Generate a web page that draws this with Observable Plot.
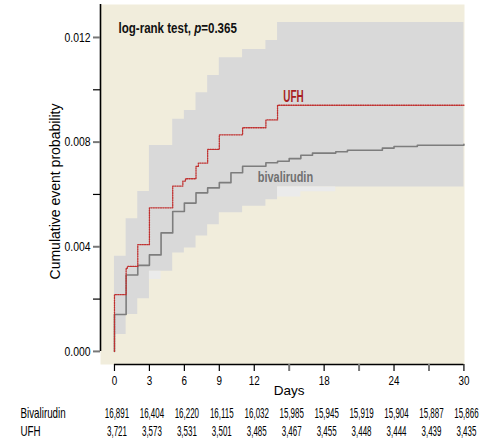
<!DOCTYPE html>
<html>
<head>
<meta charset="utf-8">
<script src="https://cdn.jsdelivr.net/npm/d3@7"></script>
<script src="https://cdn.jsdelivr.net/npm/@observablehq/plot@0.6"></script>
<style>
  html, body { margin: 0; padding: 0; background: #fff; }
  #chart { width: 502px; height: 443px; }
</style>
</head>
<body>
<div id="chart"></div>
<script>
// ---- data (probabilities in units of 0.001) ----
const bivDays = [0, 0, 1, 2, 3, 4, 5, 6, 7, 8, 9, 10, 11, 13, 14, 15, 16, 17, 19, 20, 23, 24, 26, 30];
const bivProb = [0, 1.41, 2.92, 3.29, 3.69, 4.53, 5.35, 5.67, 6.06, 6.25, 6.45, 6.83, 7.08, 7.21, 7.27, 7.37, 7.50, 7.58, 7.63, 7.69, 7.77, 7.83, 7.88, 7.92];

const ufhDays = [0, 0, 1, 1.1, 2, 3, 5, 5.87, 6.1, 7, 7.2, 8, 9, 11, 13, 14, 30];
const ufhProb = [0, 2.17, 3.16, 3.25, 4.08, 5.49, 6.32, 6.51, 6.60, 7.07, 7.20, 7.72, 8.28, 8.55, 8.85, 9.41, 9.41];

const bandDays  = [0, 1, 2, 3, 4, 5, 6, 7, 8, 9, 11, 13, 14, 30];
const bandUpper = [3.64, 5.07, 6.11, 7.87, 7.87, 8.87, 9.21, 9.89, 10.55, 11.22, 11.54, 11.88, 12.57, 12.57];
const bandLower = [0.65, 1.41, 2.01, 3.06, 3.06, 3.76, 3.95, 4.41, 4.84, 5.30, 5.55, 5.80, 6.28, 6.28];

const lightDays  = [3, 4, 14, 16, 19];
const lightLower = [2.75, 2.75, 5.90, 6.10, 6.10];
const lightUpper = [3.06, 3.06, 6.28, 6.28, 6.28];
const lightGroup = [1, 1, 2, 2, 2];

const yMajorTicks = [0, 0.004, 0.008, 0.012];
const yMinorTicks = [0.002, 0.006, 0.010];
const xLabeledTicks = [0, 3, 6, 9, 12, 18, 24, 30];
const xMinorTicks = [15, 21, 27];

const tableDays = [0, 3, 6, 9, 12, 15, 18, 21, 24, 27, 30];
const bivN = ["16,891", "16,404", "16,220", "16,115", "16,032", "15,985", "15,945", "15,919", "15,904", "15,887", "15,866"];
const ufhN = ["3,721", "3,573", "3,531", "3,501", "3,485", "3,467", "3,455", "3,448", "3,444", "3,439", "3,435"];

const groupNames = ["Bivalirudin", "UFH"];
const pText = "log-rank test, p=0.365";

// ---- build tables ----
const k = 0.001;
const biv = bivDays.map((d, i) => ({day: d, p: bivProb[i] * k}));
const ufh = ufhDays.map((d, i) => ({day: d, p: ufhProb[i] * k}));
const band = bandDays.map((d, i) => ({day: d, lo: bandLower[i] * k, hi: bandUpper[i] * k}));
const light = lightDays.map((d, i) => ({day: d, lo: lightLower[i] * k, hi: lightUpper[i] * k, g: lightGroup[i]}));

const xMin = -1.2, xMax = 30.05;
const yMin = -0.0005, yMax = 0.01326;

const font = "'Liberation Sans', Arial, sans-serif";

const chart = Plot.plot({
  width: 502,
  height: 443,
  marginLeft: 100,
  marginRight: 38,
  marginTop: 4,
  marginBottom: 79,
  style: {fontFamily: font, fontSize: "12px", color: "black", background: "white", overflow: "visible"},
  x: {domain: [xMin, xMax]},
  y: {domain: [yMin, yMax]},
  marks: [
    Plot.frame({fill: "#f1eddc", stroke: null}),
    Plot.areaY(band, {x: "day", y1: "lo", y2: "hi", curve: "step-after", fill: "#d9d9d9"}),
    Plot.areaY(light, {x: "day", y1: "lo", y2: "hi", z: "g", curve: "step-after", fill: "#ebebeb"}),
    Plot.line(biv, {x: "day", y: "p", curve: "step-after", stroke: "#7d7d7d", strokeWidth: 1.6}),
    Plot.line(ufh, {x: "day", y: "p", curve: "step-after", stroke: "#c0302f", strokeWidth: 1.3, strokeDasharray: "1.2,1.2"}),
    // axis lines
    Plot.ruleX([xMin], {y1: 0, y2: yMax, stroke: "black", strokeWidth: 1.6}),
    Plot.ruleY([yMin], {x1: 0, x2: 30, stroke: "black", strokeWidth: 1.6}),
    // y axis
    Plot.axisY(yMajorTicks, {tickSize: 7, tickPadding: 3, tickFormat: d3.format(".3f"), stroke: "#777", strokeWidth: 2, fill: "black", fontSize: 13, label: null}),
    Plot.axisY(yMinorTicks, {tickSize: 7, tickFormat: () => "", stroke: "black", strokeWidth: 1.2, label: null}),
    // x axis
    Plot.axisX(xLabeledTicks, {tickSize: 7, tickPadding: 4, tickFormat: d3.format("d"), stroke: "black", strokeWidth: 1.2, fill: "black", fontSize: 13, label: null}),
    Plot.axisX(xMinorTicks, {tickSize: 7, tickFormat: () => "", stroke: "#777", strokeWidth: 2, label: null}),
    // axis titles
    Plot.text(["Cumulative event probability"], {frameAnchor: "left", rotate: -90, dx: -45, dy: 7, textAnchor: "middle", lineAnchor: "middle", fontSize: 14, fill: "black"}),
    Plot.text(["Days"], {x: [15], frameAnchor: "bottom", dy: 26, lineAnchor: "middle", fontSize: 13.5, fill: "black"}),
    // annotations
    Plot.text([pText], {frameAnchor: "top-left", dx: 18, dy: 24, textAnchor: "start", lineAnchor: "middle", fontSize: 15, fontWeight: "bold", fill: "#111", className: "ptext"}),
    Plot.text(["UFH"], {x: [14.5], y: [0.00972], textAnchor: "start", lineAnchor: "middle", fontSize: 16, fontWeight: "bold", fill: "#a71d22", className: "ufhlab"}),
    Plot.text(["bivalirudin"], {x: [12.3], y: [0.00666], textAnchor: "start", lineAnchor: "middle", fontSize: 15, fontWeight: "bold", fill: "#707070", className: "bivlab"}),
    // numbers at risk
    Plot.text([groupNames[0]], {frameAnchor: "bottom-left", dx: -80, dy: 49, textAnchor: "start", lineAnchor: "middle", fontSize: 14, fill: "black", className: "rowlab"}),
    Plot.text([groupNames[1]], {frameAnchor: "bottom-left", dx: -80, dy: 67, textAnchor: "start", lineAnchor: "middle", fontSize: 14, fill: "black", className: "rowlab"}),
    Plot.text(tableDays, {x: d => d, text: (d, i) => bivN[i], frameAnchor: "bottom", dy: 49, dx: 2.5, lineAnchor: "middle", fontSize: 14, fill: "black", className: "nums"}),
    Plot.text(tableDays, {x: d => d, text: (d, i) => ufhN[i], frameAnchor: "bottom", dy: 67, dx: 2.5, lineAnchor: "middle", fontSize: 14, fill: "black", className: "nums"})
  ]
});

// italic p
d3.select(chart).selectAll("g.ptext text").each(function() {
  const t = d3.select(this);
  const full = t.text();
  const idx = full.indexOf("p=");
  t.text(null);
  t.append("tspan").text(full.slice(0, idx));
  t.append("tspan").attr("font-style", "italic").text("p");
  t.append("tspan").text(full.slice(idx + 1));
});

// condensed look: horizontal squeeze around each text's anchor
function squeeze(sel, s) {
  sel.each(function() {
    const t = d3.select(this);
    const tr = t.attr("transform") || "";
    t.attr("transform", (tr + ` scale(${s},1)`).trim());
  });
}
const svg = d3.select(chart);
squeeze(svg.selectAll('g[aria-label="y-axis tick label"] text'), 0.8);
squeeze(svg.selectAll('g[aria-label="x-axis tick label"] text'), 0.76);
squeeze(svg.selectAll("g.ptext text"), 0.77);
squeeze(svg.selectAll("g.ufhlab text"), 0.62);
squeeze(svg.selectAll("g.bivlab text"), 0.73);
squeeze(svg.selectAll("g.rowlab text"), 0.7);
squeeze(svg.selectAll("g.nums text"), 0.57);

document.getElementById("chart").appendChild(chart);
</script>
</body>
</html>
